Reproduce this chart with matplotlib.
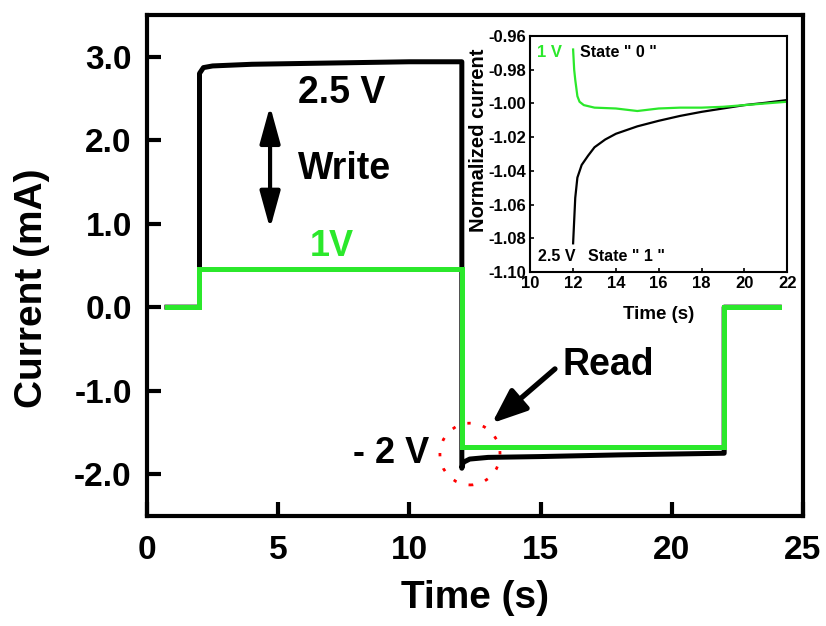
import matplotlib
matplotlib.use("Agg")
import matplotlib.pyplot as plt
from matplotlib.patches import Ellipse

plt.rcParams['font.family'] = ['Liberation Sans', 'DejaVu Sans']
plt.rcParams['font.weight'] = 'bold'

GREEN = '#2BE82B'

# Main trace: current response to 2.5 V write pulse then -2 V read
t_write25 = [0.76, 2.0, 2.0, 2.15, 2.5, 4.0, 6.0, 8.0, 10.0, 12.0, 12.0, 12.05,
             12.3, 13.0, 15.0, 18.0, 22.0, 22.0, 24.1]
i_write25 = [0.0, 0.0, 2.80, 2.87, 2.89, 2.91, 2.92, 2.93, 2.94, 2.94, -1.93, -1.86,
             -1.82, -1.80, -1.79, -1.77, -1.75, 0.0, 0.0]

# Main trace: current response to 1 V write pulse then -2 V read
t_write1 = [0.76, 2.0, 2.0, 12.0, 12.0, 22.0, 22.0, 24.1]
i_write1 = [0.0, 0.0, 0.46, 0.46, -1.67, -1.67, 0.0, 0.0]

# Inset: normalized read current
t_norm0 = [12.0, 12.05, 12.1, 12.2, 12.3, 12.5, 13.0, 14.0, 15.0, 16.0, 17.0,
           18.0, 19.0, 20.0, 21.0, 22.0]
n_state0 = [-0.968, -0.980, -0.986, -0.9957, -0.999, -1.001, -1.0025, -1.003,
            -1.0045, -1.003, -1.0025, -1.0025, -1.002, -1.001, -1.000, -0.999]
t_norm1 = [12.0, 12.1, 12.2, 12.4, 12.7, 13.0, 13.5, 14.0, 15.0, 16.0, 17.0,
           18.0, 19.0, 20.0, 21.0, 22.0]
n_state1 = [-1.083, -1.056, -1.044, -1.0365, -1.031, -1.026, -1.0214, -1.018,
            -1.0136, -1.0103, -1.0074, -1.005, -1.003, -1.001, -0.9996, -0.998]

main_xticks = [0, 5, 10, 15, 20, 25]
main_yticks = [-2.0, -1.0, 0.0, 1.0, 2.0, 3.0]
inset_xticks = [10, 12, 14, 16, 18, 20, 22]
inset_yticks = [-1.10, -1.08, -1.06, -1.04, -1.02, -1.00, -0.98, -0.96]

fig = plt.figure(figsize=(8.26, 6.26), dpi=100)
ax = fig.add_axes([0.178, 0.176, 0.794, 0.800])

ax.plot(t_write25, i_write25, color='black', lw=3.6, solid_joinstyle='round')
ax.plot(t_write1, i_write1, color=GREEN, lw=3.6, solid_joinstyle='miter')

ax.set_xlim(0, 25)
ax.set_ylim(-2.5, 3.5)
ax.set_xticks(main_xticks)
ax.set_xticklabels([f"{v:d}" for v in main_xticks])
ax.set_yticks(main_yticks)
ax.set_yticklabels([f"{v:.1f}" for v in main_yticks])
ax.tick_params(direction='in', length=10, width=3, labelsize=24)
ax.tick_params(axis='y', pad=11)
ax.tick_params(axis='x', pad=14)
for s in ax.spines.values():
    s.set_linewidth(3)
for lab in ax.get_xticklabels() + ax.get_yticklabels():
    lab.set_fontweight('bold')
ax.set_xlabel('Time (s)', fontsize=28, fontweight='bold', labelpad=10)
ax.set_ylabel('Current (mA)', fontsize=28, fontweight='bold')
ax.yaxis.set_label_coords(-0.148, 0.455)

# Annotations
ax.text(7.43, 2.57, '2.5 V', fontsize=27, fontweight='bold', ha='center', va='center')
ax.text(7.51, 1.65, 'Write', fontsize=27, fontweight='bold', ha='center', va='center')
ax.text(7.05, 0.73, '1V', fontsize=26, fontweight='bold', ha='center', va='center', color=GREEN)
ax.text(9.3, -1.75, '- 2 V', fontsize=26, fontweight='bold', ha='center', va='center')
ax.text(17.57, -0.69, 'Read', fontsize=27, fontweight='bold', ha='center', va='center')
ax.annotate('', xy=(4.69, 0.94), xytext=(4.69, 2.41),
            arrowprops=dict(arrowstyle='<|-|>,head_length=0.8,head_width=0.22',
                            color='black', lw=3, mutation_scale=28,
                            shrinkA=0, shrinkB=0))
ax.annotate('', xy=(13.15, -1.39), xytext=(15.55, -0.74),
            arrowprops=dict(arrowstyle='-|>,head_length=0.75,head_width=0.3',
                            color='black', lw=3.8, mutation_scale=28,
                            shrinkA=0, shrinkB=0))
ax.add_patch(Ellipse((12.31, -1.76), 2.29, 0.74, fill=False, ec='red',
                     lw=2, ls=(0, (1.2, 4.5))))

# Inset
ins = fig.add_axes([0.642, 0.5655, 0.311, 0.377])
ins.plot(t_norm1, n_state1, color='black', lw=1.6)
ins.plot(t_norm0, n_state0, color=GREEN, lw=1.6)
ins.set_xlim(10, 22)
ins.set_ylim(-1.10, -0.96)
ins.set_xticks(inset_xticks)
ins.set_xticklabels([f"{v:d}" for v in inset_xticks])
ins.set_yticks(inset_yticks)
ins.set_yticklabels([f"{v:.2f}" for v in inset_yticks])
ins.tick_params(direction='in', length=3, width=1.2, labelsize=12, pad=3)
for s in ins.spines.values():
    s.set_linewidth(1.5)
for lab in ins.get_xticklabels() + ins.get_yticklabels():
    lab.set_fontweight('bold')
ins.set_xlabel('Time (s)', fontsize=13.5, fontweight='bold')
ins.xaxis.set_label_coords(0.498, -0.145)
ins.set_ylabel('Normalized current', fontsize=14.5, fontweight='bold')
ins.yaxis.set_label_coords(-0.163, 0.56)
ins.text(10.33, -0.970, '1 V', fontsize=12, fontweight='bold', color=GREEN, va='center')
ins.text(12.33, -0.970, 'State " 0 "', fontsize=11.5, fontweight='bold', va='center')
ins.text(10.37, -1.091, '2.5 V', fontsize=11.5, fontweight='bold', va='center')
ins.text(12.7, -1.091, 'State " 1 "', fontsize=11.5, fontweight='bold', va='center')

fig.savefig('out.png', dpi=100)
